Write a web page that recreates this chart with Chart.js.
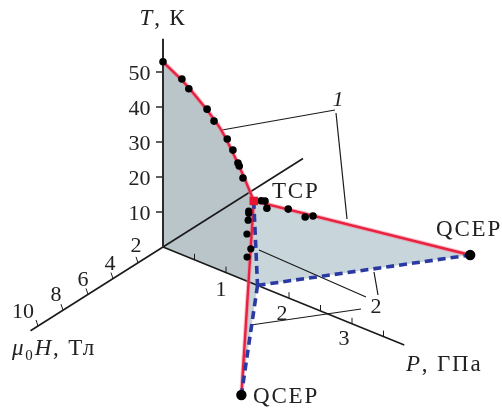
<!DOCTYPE html>
<html>
<head>
<meta charset="utf-8">
<title>P-H-T</title>
<script src="https://cdn.jsdelivr.net/npm/chart.js@4/dist/chart.umd.min.js"></script>
<style>
  html, body { margin: 0; padding: 0; background: #fff; }
  canvas { display: block; }
</style>
</head>
<body>
<canvas id="phaseChart" width="502" height="408"></canvas>
<script>
// Values: P in GPa, H in T, T in K

// red line of the H = 0 plane, P against T
const domeP = [0, 0.32, 0.635, 0.905, 1.11, 1.27, 1.44];
const domeT = [52.9, 49.6, 45.2, 40.6, 35, 29.9, 23.7];

// black points on the H = 0 line
const domePointsP = [0, 0.30, 0.41, 0.70, 0.81, 1.02, 1.11, 1.19, 1.21, 1.27];
const domePointsT = [52.9, 50.2, 48.2, 44.5, 41.9, 38.3, 35.8, 32.7, 32, 29];

// black points on the wing going to negative H
const upperP = [1.50, 1.52, 1.53, 1.69, 1.82, 1.885];
const upperH = [-0.3, -0.5, -0.6, -1.5, -2.2, -2.5];
const upperT = [23.5, 23.1, 20.9, 19.8, 16.9, 17.0];

// black points on the wing going to positive H
const lowerP = [1.46, 1.48, 1.53, 1.65, 1.85, 1.87];
const lowerH = [0.5, 0.6, 0.9, 1.6, 2.3, 2.7];
const lowerT = [22.1, 21.8, 20.9, 19.4, 18.2, 16.9];

// special points as [P, H, T]
const tcp = [1.44, 0, 23.7];
const qcepUpper = [3.09, -9.0, 0];
const qcepLower = [3.02, 8.95, 0];
const foot = [1.5, 0, 0];

// ticks
const tempTicks = [10, 20, 30, 40, 50];
const fieldTicks = [2, 4, 6, 8, 10];
const pressureTicks = [0.5, 1, 1.5, 2, 2.5, 3, 3.5];
const pressureLabels = [1, 2, 3];

// axis ends
const tempEnd = 59.5;
const fieldEnd = 10.6;
const fieldBack = -11.2;
const pressureEnd = 3.83;

// oblique projection of (P, H, T) on the flat chart plane
function project(p, h, t) {
  return { x: 163 + 63 * p - 12.5 * h, y: 247 + 25.6 * p + 7.9 * h - 3.5 * t };
}
const proj3 = a => project(a[0], a[1], a[2]);

const domeLine = domeP.map((p, i) => project(p, 0, domeT[i]));
const origin = project(0, 0, 0);
const datasets = [];   // paint order, reversed at the end

function addLine(data, color, width, extra) {
  datasets.push(Object.assign({
    type: 'line', data, borderColor: color, borderWidth: width,
    pointRadius: 0, fill: false, tension: 0, spanGaps: false
  }, extra));
}
function addPoints(data, color, radius, style) {
  datasets.push({
    type: 'scatter', data, backgroundColor: color, borderColor: color, borderWidth: 0,
    pointRadius: radius, pointStyle: style || 'circle', showLine: false
  });
}
function addShape(data, color) {
  addLine(data, 'rgba(0,0,0,0)', 0, { fill: 'shape', backgroundColor: color });
}
function segments(list) {
  const out = [];
  list.forEach(s => { out.push(s[0], s[1], { x: null, y: null }); });
  return out;
}

// planes
addShape([origin, project(0, 0, domeT[0]), ...domeLine, proj3(foot)], '#bac5c9');
addShape([proj3(tcp), proj3(qcepUpper), proj3(foot)], '#c8d5db');
addShape([proj3(tcp), proj3(qcepLower), proj3(foot)], '#c8d5db');

// axes
addLine([origin, project(0, fieldEnd, 0)], '#1a1a1a', 1.6);
addLine([origin, project(0, fieldBack, 0)], '#1a1a1a', 1.6);
addLine([origin, project(pressureEnd, 0, 0)], '#1a1a1a', 1.6);
addLine([origin, project(0, 0, tempEnd)], '#2b2b2b', 2);

// ticks
addLine(segments(tempTicks.map(t => {
  const a = project(0, 0, t);
  return [a, { x: a.x - 7, y: a.y }];
})), '#2b2b2b', 1.6);
addLine(segments(fieldTicks.map(h => {
  const a = project(0, h, 0);
  return [a, { x: a.x - 2, y: a.y - 6 }];
})), '#1a1a1a', 1);
addLine(segments(pressureTicks.map(p => {
  const a = project(p, 0, 0);
  return [a, { x: a.x, y: a.y - 6 }];
})), '#1a1a1a', 1);

// leader lines to the labels 1 and 2 (chart plane units)
addLine(segments([
  [{ x: 222, y: 130 }, { x: 335, y: 110 }],
  [{ x: 336, y: 113 }, { x: 347, y: 219 }],
  [{ x: 259, y: 250 }, { x: 366, y: 297 }],
  [{ x: 374, y: 272 }, { x: 378, y: 295 }],
  [{ x: 251, y: 325 }, { x: 361, y: 309 }]
]), '#1a1a1a', 1.2);

// transitions, the wider pale stroke is the soft edge of the red lines
const red = '#e9213f';
const pale = 'rgba(240,130,150,0.55)';
const blue = '#2b3aa3';
const dash = { borderDash: [8, 5] };
addLine(domeLine, pale, 4.4, { tension: 0.35 });
addLine([proj3(tcp), proj3(qcepUpper)], pale, 4.4);
addLine([proj3(tcp), proj3(qcepLower)], pale, 4.4);
addLine(domeLine, red, 2.4, { tension: 0.35 });
addLine([proj3(tcp), proj3(qcepUpper)], red, 2.4);
addLine([proj3(tcp), proj3(qcepLower)], red, 2.4);
addLine([proj3(tcp), proj3(foot)], blue, 3.6, dash);
addLine([proj3(foot), proj3(qcepUpper)], blue, 3.6, dash);
addLine([proj3(foot), proj3(qcepLower)], blue, 3.6, dash);

// measured points
addPoints(domePointsP.map((p, i) => project(p, 0, domePointsT[i])), '#000', 3.8);
addPoints(upperP.map((p, i) => project(p, upperH[i], upperT[i])), '#000', 3.8);
addPoints(lowerP.map((p, i) => project(p, lowerH[i], lowerT[i])), '#000', 3.6);
addPoints([proj3(qcepUpper), proj3(qcepLower)], '#000', 5.2);
addPoints([proj3(tcp)], '#e9152f', 6, 'rect');

// text, in chart plane units, each label is a list of font runs
const serif = '"Liberation Serif", serif';
const labels = [];
function addText(x, y, align, runs, title) { labels.push({ x, y, align, runs, title }); }
tempTicks.forEach(t => addText(150.5, project(0, 0, t).y + 2.5, 'right', [{ t: String(t) }]));
[[2, 136, 246], [4, 110, 264], [6, 83, 280], [8, 56, 295], [10, 23, 312]]
  .forEach(l => addText(l[1], l[2], 'center', [{ t: String(l[0]) }]));
pressureLabels.forEach((p, i) => addText([221, 282, 344][i], [290, 314, 339][i], 'center', [{ t: String(p) }]));
addText(163, 19, 'center', [{ t: 'T', i: true }, { t: ', К' }], true);
addText(12, 349, 'left', [{ t: 'μ', i: true }, { t: '0', small: true }, { t: 'H', i: true }, { t: ', Тл' }], true);
addText(406, 365, 'left', [{ t: 'P', i: true }, { t: ', ГПа' }], true);
addText(436, 230, 'left', [{ t: 'QCEP' }], true);
addText(253, 397, 'left', [{ t: 'QCEP' }], true);
addText(272, 192, 'left', [{ t: 'TCP' }], true);
addText(338, 100, 'center', [{ t: '1', i: true }]);
addText(376, 307, 'center', [{ t: '2' }]);

const textPlugin = {
  id: 'planeText',
  afterDatasetsDraw(chart) {
    const ctx = chart.ctx;
    const sx = chart.scales.x, sy = chart.scales.y;
    ctx.save();
    ctx.fillStyle = '#222';
    ctx.textBaseline = 'middle';
    ctx.textAlign = 'left';
    labels.forEach(l => {
      const size = l.title ? 23 : 22;
      const fontOf = r => (r.i ? 'italic ' : '') + (r.small ? 15 : size) + 'px ' + serif;
      ctx.letterSpacing = l.title ? '1.8px' : '0px';
      let width = 0;
      l.runs.forEach(r => {
        ctx.font = fontOf(r);
        width += ctx.measureText(r.t).width;
      });
      let x = sx.getPixelForValue(l.x);
      if (l.align === 'right') x -= width;
      if (l.align === 'center') x -= width / 2;
      const y = sy.getPixelForValue(l.y);
      l.runs.forEach(r => {
        ctx.font = fontOf(r);
        ctx.fillText(r.t, x, r.small ? y + 7 : y);
        x += ctx.measureText(r.t).width;
      });
    });
    ctx.restore();
  }
};

new Chart(document.getElementById('phaseChart'), {
  type: 'scatter',
  data: { datasets: datasets.reverse() },
  options: {
    responsive: false,
    animation: false,
    layout: { padding: 0, autoPadding: false },
    plugins: { legend: { display: false }, tooltip: { enabled: false } },
    scales: {
      x: { type: 'linear', display: false, min: 0, max: 502 },
      y: { type: 'linear', display: false, min: 0, max: 408, reverse: true }
    }
  },
  plugins: [textPlugin]
});
</script>
</body>
</html>
